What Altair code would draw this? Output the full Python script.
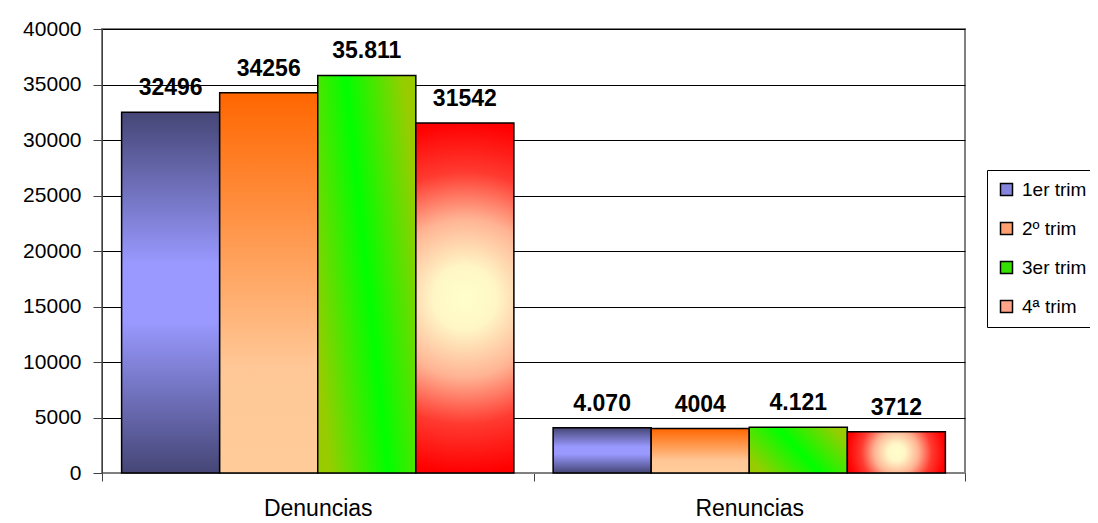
import altair as alt
import pandas as pd

# ---- data ----
categories = ["Denuncias", "Renuncias"]
series = ["1er trim", "2º trim", "3er trim", "4ª trim"]
values_denuncias = [32496, 34256, 35811, 31542]
values_renuncias = [4070, 4004, 4121, 3712]
labels_denuncias = ["32496", "34256", "35.811", "31542"]
labels_renuncias = ["4.070", "4004", "4.121", "3712"]
y_ticks = [0, 5000, 10000, 15000, 20000, 25000, 30000, 35000, 40000]
legend_colors = ["#8585DD", "#FF9E6E", "#33E000", "#FFA488"]

rows = []
for cat, vals, labs in [(categories[0], values_denuncias, labels_denuncias),
                        (categories[1], values_renuncias, labels_renuncias)]:
    for s, v, l in zip(series, vals, labs):
        rows.append({"cat": cat, "series": s, "value": v, "label": l})
df = pd.DataFrame(rows)

FONT = "Arial, Liberation Sans, sans-serif"

# ---- gradients (one per series) ----
gradients = {
    "1er trim": {
        "gradient": "linear", "x1": 0, "y1": 0, "x2": 0, "y2": 1,
        "stops": [
            {"offset": 0.0, "color": "#454676"},
            {"offset": 0.42, "color": "#9999FF"},
            {"offset": 0.58, "color": "#9999FF"},
            {"offset": 1.0, "color": "#454676"},
        ],
    },
    "2º trim": {
        "gradient": "linear", "x1": 0, "y1": 0, "x2": 0, "y2": 1,
        "stops": [
            {"offset": 0.0, "color": "#FF6600"},
            {"offset": 0.72, "color": "#FFC796"},
            {"offset": 1.0, "color": "#FFCC99"},
        ],
    },
    "3er trim": {
        "gradient": "linear", "x1": 0, "y1": 0.72, "x2": 1, "y2": 0.28,
        "stops": [
            {"offset": 0.0, "color": "#99CC00"},
            {"offset": 0.5, "color": "#00FF00"},
            {"offset": 1.0, "color": "#99CC00"},
        ],
    },
    "4ª trim": {
        "gradient": "radial", "x1": 0.5, "y1": 0.5, "r1": 0,
        "x2": 0.5, "y2": 0.5, "r2": 0.5,
        "stops": [
            {"offset": 0.0, "color": "#FFFFCC"},
            {"offset": 0.18, "color": "#FFF6C6"},
            {"offset": 0.45, "color": "#FFB494"},
            {"offset": 0.72, "color": "#FF3A30"},
            {"offset": 1.0, "color": "#FF0000"},
        ],
    },
}

# ---- encodings ----
x_enc = alt.X(
    "cat:N", sort=categories, title=None,
    scale=alt.Scale(paddingInner=0, paddingOuter=0),
    axis=alt.Axis(labelAngle=0, labelFont=FONT, labelFontSize=23, labelColor="black",
                  labelPadding=16, tickSize=8, tickColor="#404040", tickWidth=1,
                  domainColor="#808080", domainWidth=1, tickBand="extent", grid=False),
)
xo_enc = alt.XOffset(
    "series:N", sort=series,
    scale=alt.Scale(domain=series, paddingInner=0, paddingOuter=0.2),
)
y_enc = alt.Y(
    "value:Q", title=None,
    scale=alt.Scale(domain=[0, 40000], nice=False),
    axis=alt.Axis(values=y_ticks, format="d", labelFont=FONT, labelFontSize=21,
                  labelColor="black", labelPadding=12, tickSize=9, tickColor="#404040",
                  domainColor="#404040", domainWidth=1, grid=True, gridColor="black",
                  gridWidth=1),
)

layers = []
for s in series:
    layers.append(
        alt.Chart(df)
        .transform_filter(alt.datum.series == s)
        .mark_bar(fill=gradients[s], stroke="black", strokeWidth=1.5)
        .encode(x=x_enc, xOffset=xo_enc, y=y_enc)
    )

legend_layer = (
    alt.Chart(df)
    .mark_square(opacity=0, stroke="black")
    .encode(
        x=x_enc, xOffset=xo_enc, y=y_enc,
        color=alt.Color(
            "series:N", sort=series,
            scale=alt.Scale(domain=series, range=legend_colors),
            legend=alt.Legend(
                title=None, orient="none", legendX=885, legendY=141,
                symbolType="square", symbolSize=144, symbolOpacity=1,
                symbolStrokeColor="black", symbolStrokeWidth=1.5,
                labelFont=FONT, labelFontSize=19, labelColor="black",
                labelOffset=6, rowPadding=19, padding=10,
                strokeColor="black", fillColor="white",
            ),
        ),
    )
)

text_layer = (
    alt.Chart(df)
    .mark_text(font=FONT, fontSize=23, fontWeight="bold", baseline="alphabetic",
               dy=-17, color="black")
    .encode(x=x_enc, xOffset=xo_enc, y=y_enc, text="label:N")
)

chart = (
    alt.layer(*layers, legend_layer, text_layer)
    .properties(
        width=863, height=444,
        autosize=alt.AutoSizeParams(type="none"),
        padding={"left": 94, "top": 21, "right": 125, "bottom": 50},
        background="white",
    )
    .configure(font=FONT)
    .configure_view(stroke="#808080", strokeWidth=2)
)

chart.save("out.html", embed_options={"renderer": "svg", "actions": False})
